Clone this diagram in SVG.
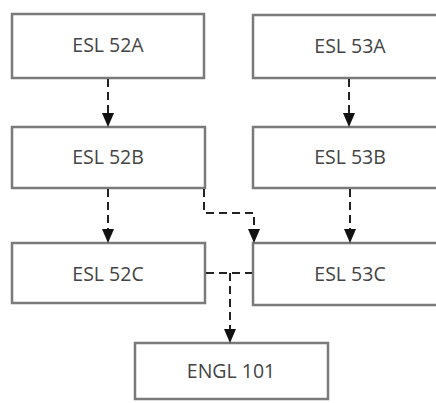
<svg xmlns="http://www.w3.org/2000/svg" width="436" height="403" viewBox="0 0 436 403">
<defs>
<style>
.box{fill:#fff;stroke:#7a7a7a;stroke-width:2.5}
.lbl{font-family:"Open Sans","Liberation Sans",sans-serif;font-size:19.5px;fill:#444;text-anchor:middle}
.conn{fill:none;stroke:#222;stroke-width:2;stroke-dasharray:8 5}
</style>
<marker id="ah" markerUnits="userSpaceOnUse" markerWidth="14" markerHeight="12" viewBox="0 0 14 12" refX="14" refY="6" orient="auto">
<path d="M0,0 L14,6 L0,12 Z" fill="#111"/>
</marker>
</defs>
<rect width="436" height="403" fill="#fff"/>
<g id="n52A"><rect class="box" x="12" y="14" width="192" height="64"/><text class="lbl" x="108" y="52">ESL 52A</text></g>
<g id="n52B"><rect class="box" x="12" y="127" width="193" height="61"/><text class="lbl" x="108" y="164">ESL 52B</text></g>
<g id="n52C"><rect class="box" x="12" y="243" width="193" height="60"/><text class="lbl" x="108" y="281">ESL 52C</text></g>
<g id="n53A"><rect class="box" x="253" y="15" width="193" height="63"/><text class="lbl" x="350" y="53">ESL 53A</text></g>
<g id="n53B"><rect class="box" x="253" y="127" width="193" height="61"/><text class="lbl" x="350" y="164">ESL 53B</text></g>
<g id="n53C"><rect class="box" x="253" y="243" width="193" height="62"/><text class="lbl" x="350" y="281">ESL 53C</text></g>
<g id="nENGL"><rect class="box" x="135" y="343" width="193" height="56"/><text class="lbl" x="231" y="378">ENGL 101</text></g>
<g id="connectors">
<path class="conn" d="M108,79 V114"/>
<path d="M108,113 L108,127" fill="none" stroke="none" marker-end="url(#ah)"/>
<path class="conn" d="M349,79 V114"/>
<path d="M349,113 L349,127" fill="none" stroke="none" marker-end="url(#ah)"/>
<path class="conn" d="M108,189 V230"/>
<path d="M108,229 L108,243" fill="none" stroke="none" marker-end="url(#ah)"/>
<path class="conn" d="M350,189 V230"/>
<path d="M350,229 L350,243" fill="none" stroke="none" marker-end="url(#ah)"/>
<path class="conn" d="M204,189 V213 H254 V230"/>
<path d="M254,229 L254,243" fill="none" stroke="none" marker-end="url(#ah)"/>
<path class="conn" d="M206,273 H252"/>
<path class="conn" d="M230,273 V330"/>
<path d="M230,329 L230,343" fill="none" stroke="none" marker-end="url(#ah)"/>
</g>
</svg>
